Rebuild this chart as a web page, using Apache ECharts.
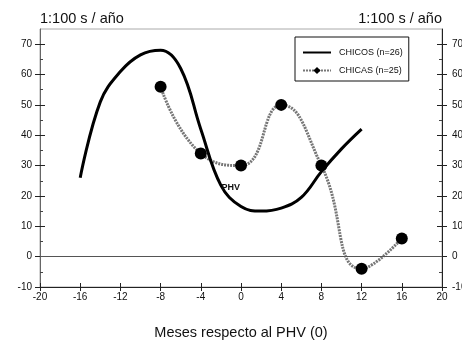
<!DOCTYPE html>
<html>
<head>
<meta charset="utf-8">
<script src="https://cdn.jsdelivr.net/npm/echarts@6/dist/echarts.min.js"></script>
<style>
  html, body { margin: 0; padding: 0; background: #fff; }
  #chart { width: 462px; height: 347px; }
</style>
</head>
<body>
<div id="chart"></div>
<script>
// tick labels
const monthTicks = [-20, -16, -12, -8, -4, 0, 4, 8, 12, 16, 20];
const rateTicks = [-10, 0, 10, 20, 30, 40, 50, 60, 70];

// CHICOS (thick black curve)
const chicosMonths = [-16, -14, -12, -10, -8, -6, -4, -2, 0, 2, 4, 6, 8, 10, 12];
const chicosValues = [26, 51, 61, 66.5, 68, 62, 42, 23.5, 16.5, 15, 16, 19.5, 28, 35.5, 42];

// CHICAS (grey dotted curve with markers)
const chicasMonths = [-8, -4, 0, 4, 8, 12, 16];
const chicasValues = [56, 34, 30, 50, 30, -4, 6];

const font = '"Liberation Sans", Arial, sans-serif';
const chart = echarts.init(document.getElementById('chart'));

function yAxisFor(position, inside, withLabels) {
  return {
    type: 'value',
    position: position,
    min: -10,
    max: 75,
    interval: 10,
    name: withLabels ? '1:100 s / año' : '',
    nameLocation: 'end',
    nameGap: 3,
    nameTextStyle: {
      fontFamily: font, fontSize: 14.5, color: '#111',
      align: position === 'left' ? 'left' : 'right',
    },
    axisLine: { show: withLabels, onZero: false, lineStyle: { color: position === 'left' ? '#666' : '#222', width: 1 } },
    axisTick: { show: true, inside: inside, length: 5, customValues: rateTicks, lineStyle: { color: '#222' } },
    minorTick: { show: inside, splitNumber: 2, length: 3, lineStyle: { color: '#444' } },
    axisLabel: {
      show: withLabels,
      customValues: rateTicks,
      margin: position === 'left' ? 8 : 10,
      fontFamily: font, fontSize: 10, color: '#111',
    },
    splitLine: { show: false },
  };
}

chart.setOption({
  animation: false,
  backgroundColor: '#fff',
  grid: {
    left: 40, right: 20, top: 29, bottom: 60,
    outerBoundsMode: 'none',
    containLabel: false,
    show: true, borderColor: '#aaa', borderWidth: 1,
  },
  legend: {
    orient: 'vertical',
    left: 295,
    top: 37,
    padding: [11, 6, 6, 7],
    itemWidth: 28,
    itemHeight: 9,
    itemGap: 9,
    borderColor: '#111',
    borderWidth: 1,
    textStyle: { fontFamily: font, fontSize: 9, color: '#111', padding: [0, 0, 0, 3] },
    data: [
      { name: 'CHICOS (n=26)', itemStyle: { opacity: 0 } },
      { name: 'CHICAS (n=25)' },
    ],
  },
  xAxis: [
    {
      type: 'value',
      min: -20,
      max: 20,
      interval: 4,
      name: 'Meses respecto al PHV (0)',
      nameLocation: 'middle',
      nameGap: 38,
      nameTextStyle: { fontFamily: font, fontSize: 14.5, color: '#111' },
      axisLine: { onZero: false, lineStyle: { color: '#222', width: 1 } },
      axisTick: { inside: false, length: 4, customValues: monthTicks, lineStyle: { color: '#222' } },
      axisLabel: { customValues: monthTicks, margin: 5, fontFamily: font, fontSize: 10, color: '#111' },
      splitLine: { show: false },
    },
    {
      type: 'value',
      position: 'bottom',
      min: -20,
      max: 20,
      interval: 4,
      axisLine: { show: false, onZero: false },
      axisTick: { inside: true, length: 4, customValues: monthTicks, lineStyle: { color: '#222' } },
      axisLabel: { show: false },
      splitLine: { show: false },
    },
  ],
  yAxis: [
    yAxisFor('left', false, true),
    yAxisFor('right', false, true),
    yAxisFor('left', true, false),
    yAxisFor('right', true, false),
  ],
  series: [
    {
      name: 'CHICOS (n=26)',
      type: 'line',
      smooth: 0.4,
      symbol: 'none',
      data: chicosMonths.map((m, i) => [m, chicosValues[i]]),
      lineStyle: { color: '#000', width: 3 },
      itemStyle: { color: '#000' },
      z: 3,
      markLine: {
        silent: true,
        symbol: 'none',
        label: { show: false },
        lineStyle: { color: '#555', width: 1, type: 'solid' },
        data: [{ yAxis: 0 }],
      },
      markPoint: {
        symbol: 'circle',
        symbolSize: 1,
        itemStyle: { color: 'rgba(0,0,0,0)' },
        label: {
          show: true, position: 'right', distance: 0, formatter: 'PHV',
          fontFamily: font, fontSize: 9, fontWeight: 'bold', color: '#111',
        },
        data: [{ coord: [-2.0, 22.7] }],
      },
    },
    {
      name: 'CHICAS (n=25)',
      type: 'line',
      smooth: 0.5,
      symbol: 'diamond',
      symbolSize: 12,
      data: chicasMonths.map((m, i) => ({ value: [m, chicasValues[i]], symbol: 'circle' })),
      lineStyle: { color: '#777', width: 3, type: [2, 1] },
      itemStyle: { color: '#000' },
      z: 2,
    },
  ],
});
</script>
</body>
</html>
